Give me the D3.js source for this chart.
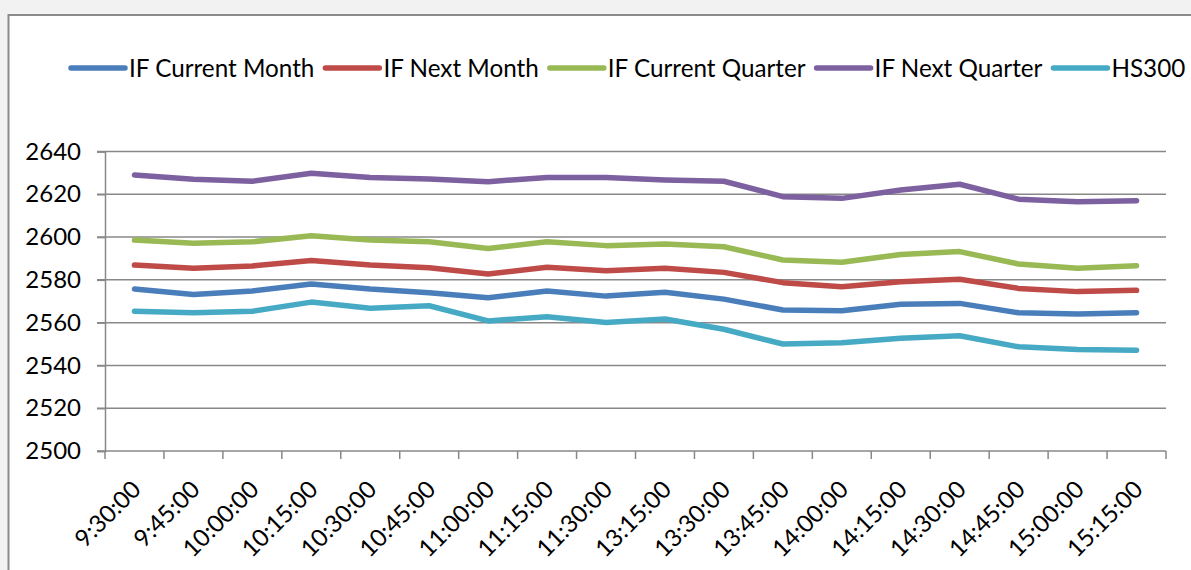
<!DOCTYPE html>
<html>
<head>
<meta charset="utf-8">
<script src="https://cdn.jsdelivr.net/npm/d3@7"></script>
<style>
  html, body { margin: 0; padding: 0; background: #f2f2f2; }
  svg { display: block; }
  text { font-family: Lato, "Open Sans", sans-serif; fill: #000; }
</style>
</head>
<body>
<svg id="chart"></svg>
<script>
// Chart size
const width = 1191;
const height = 570;

// Data
const times = ["9:30:00", "9:45:00", "10:00:00", "10:15:00", "10:30:00", "10:45:00",
  "11:00:00", "11:15:00", "11:30:00", "13:15:00", "13:30:00", "13:45:00",
  "14:00:00", "14:15:00", "14:30:00", "14:45:00", "15:00:00", "15:15:00"];

const ifCurrentMonth = [2575.7, 2573.2, 2574.8, 2578.1, 2575.7, 2574.0, 2571.6, 2574.8, 2572.4,
  2574.2, 2571.0, 2565.9, 2565.6, 2568.6, 2569.0, 2564.6, 2564.0, 2564.6];
const ifNextMonth = [2586.9, 2585.4, 2586.5, 2589.0, 2586.9, 2585.7, 2582.7, 2585.9, 2584.3,
  2585.4, 2583.5, 2578.7, 2576.8, 2579.1, 2580.3, 2576.0, 2574.5, 2575.1];
const ifCurrentQuarter = [2598.6, 2597.1, 2597.8, 2600.6, 2598.6, 2597.8, 2594.7, 2597.8, 2596.0,
  2596.8, 2595.5, 2589.3, 2588.2, 2591.9, 2593.2, 2587.4, 2585.4, 2586.6];
const ifNextQuarter = [2629.0, 2627.0, 2626.1, 2629.8, 2627.8, 2627.1, 2625.9, 2627.9, 2627.8,
  2626.7, 2626.1, 2618.9, 2618.1, 2622.0, 2624.7, 2617.7, 2616.5, 2617.0];
const hs300 = [2565.3, 2564.6, 2565.3, 2569.6, 2566.7, 2567.9, 2560.8, 2562.8, 2560.1,
  2561.7, 2556.9, 2550.0, 2550.6, 2552.7, 2553.9, 2548.7, 2547.5, 2547.1];

const seriesNames = ["IF Current Month", "IF Next Month", "IF Current Quarter", "IF Next Quarter", "HS300"];
const seriesValues = [ifCurrentMonth, ifNextMonth, ifCurrentQuarter, ifNextQuarter, hs300];
const seriesColors = ["#4a7ebb", "#be4b48", "#98b954", "#7d60a0", "#46aac5"];

const yTicks = [2500, 2520, 2540, 2560, 2580, 2600, 2620, 2640];

// Plot area
const plot = { left: 105, right: 1166, top: 151.5, bottom: 451 };
const gridColor = "#888888";

const svg = d3.select("#chart").attr("width", width).attr("height", height);

// Page background and chart box
svg.append("rect").attr("width", width).attr("height", height).attr("fill", "#f2f2f2");
svg.append("rect")
  .attr("x", 8.5).attr("y", 15)
  .attr("width", 1250).attr("height", 650)
  .attr("fill", "#fff")
  .attr("stroke", "#8a8a8a")
  .attr("stroke-width", 2);

// Scales
const xScale = d3.scaleBand().domain(times).range([plot.left, plot.right]);
const xCenter = (d) => xScale(d) + xScale.bandwidth() / 2;

const yScale = d3.scaleLinear()
  .domain([d3.min(yTicks), d3.max(yTicks)])
  .range([plot.bottom, plot.top]);

// Horizontal gridlines
svg.append("g")
  .selectAll("line")
  .data(yTicks)
  .enter()
  .append("line")
  .attr("x1", plot.left - 8)
  .attr("x2", plot.right)
  .attr("y1", (d) => yScale(d))
  .attr("y2", (d) => yScale(d))
  .attr("stroke", gridColor)
  .attr("stroke-width", 1.5);

// Y axis
const yAxis = d3.axisLeft(yScale)
  .tickValues(yTicks)
  .tickFormat(d3.format("d"))
  .tickSize(8)
  .tickPadding(16);
const yG = svg.append("g").attr("transform", "translate(" + plot.left + ",0)").call(yAxis);
yG.select(".domain").attr("stroke", gridColor).attr("stroke-width", 1.5);
yG.selectAll(".tick line").attr("stroke", gridColor).attr("stroke-width", 1.5);
yG.selectAll(".tick text")
  .style("font-family", "Lato, sans-serif")
  .style("font-size", "24px")
  .attr("fill", "#000");

// X axis: ticks between categories, labels at centers
const xBounds = times.map((d) => xScale(d)).concat([plot.right]);
svg.append("g")
  .selectAll("line")
  .data(xBounds)
  .enter()
  .append("line")
  .attr("x1", (d) => d)
  .attr("x2", (d) => d)
  .attr("y1", plot.bottom)
  .attr("y2", plot.bottom + 8)
  .attr("stroke", gridColor)
  .attr("stroke-width", 1.5);

svg.append("g")
  .selectAll("text")
  .data(times)
  .enter()
  .append("text")
  .attr("transform", (d) => "translate(" + (xCenter(d) + 2) + "," + (plot.bottom + 34) + ") rotate(-45)")
  .attr("text-anchor", "end")
  .attr("dy", "0.35em")
  .style("font-size", "24px")
  .text((d) => d);

// Lines
const line = d3.line()
  .x((d, i) => xCenter(times[i]))
  .y((d) => yScale(d));

svg.append("g")
  .selectAll("path")
  .data(seriesValues)
  .enter()
  .append("path")
  .attr("d", (d) => line(d))
  .attr("fill", "none")
  .attr("stroke", (d, i) => seriesColors[i])
  .attr("stroke-width", 5.5)
  .attr("stroke-linecap", "round")
  .attr("stroke-linejoin", "round");

// Legend
const legendY = 68;
const legendLeft = 71;
const legendRight = 1189;
const swatch = 54;
const gap = 4;
const itemGap = 11;

const legend = svg.append("g");
const items = legend
  .selectAll("g")
  .data(seriesNames)
  .enter()
  .append("g");

items.append("line")
  .attr("x1", 0).attr("x2", swatch)
  .attr("y1", 0).attr("y2", 0)
  .attr("stroke", (d, i) => seriesColors[i])
  .attr("stroke-width", 5.5)
  .attr("stroke-linecap", "round");

const labels = items.append("text")
  .attr("x", swatch + gap)
  .attr("dy", "0.35em")
  .style("font-size", "25px")
  .text((d) => d);

// Shrink the legend font until the row fits
const rowWidth = () => {
  let w = 0;
  labels.each(function () { w += this.getComputedTextLength(); });
  return w + seriesNames.length * (swatch + gap) + (seriesNames.length - 1) * itemGap;
};
let fs = 25;
while (rowWidth() > legendRight - legendLeft && fs > 12) {
  fs -= 0.25;
  labels.style("font-size", fs + "px");
}

// Flow the legend items from the left
let cursor = legendLeft;
items.each(function () {
  d3.select(this).attr("transform", "translate(" + cursor + "," + legendY + ")");
  cursor += swatch + gap + d3.select(this).select("text").node().getComputedTextLength() + itemGap;
});
</script>
</body>
</html>
